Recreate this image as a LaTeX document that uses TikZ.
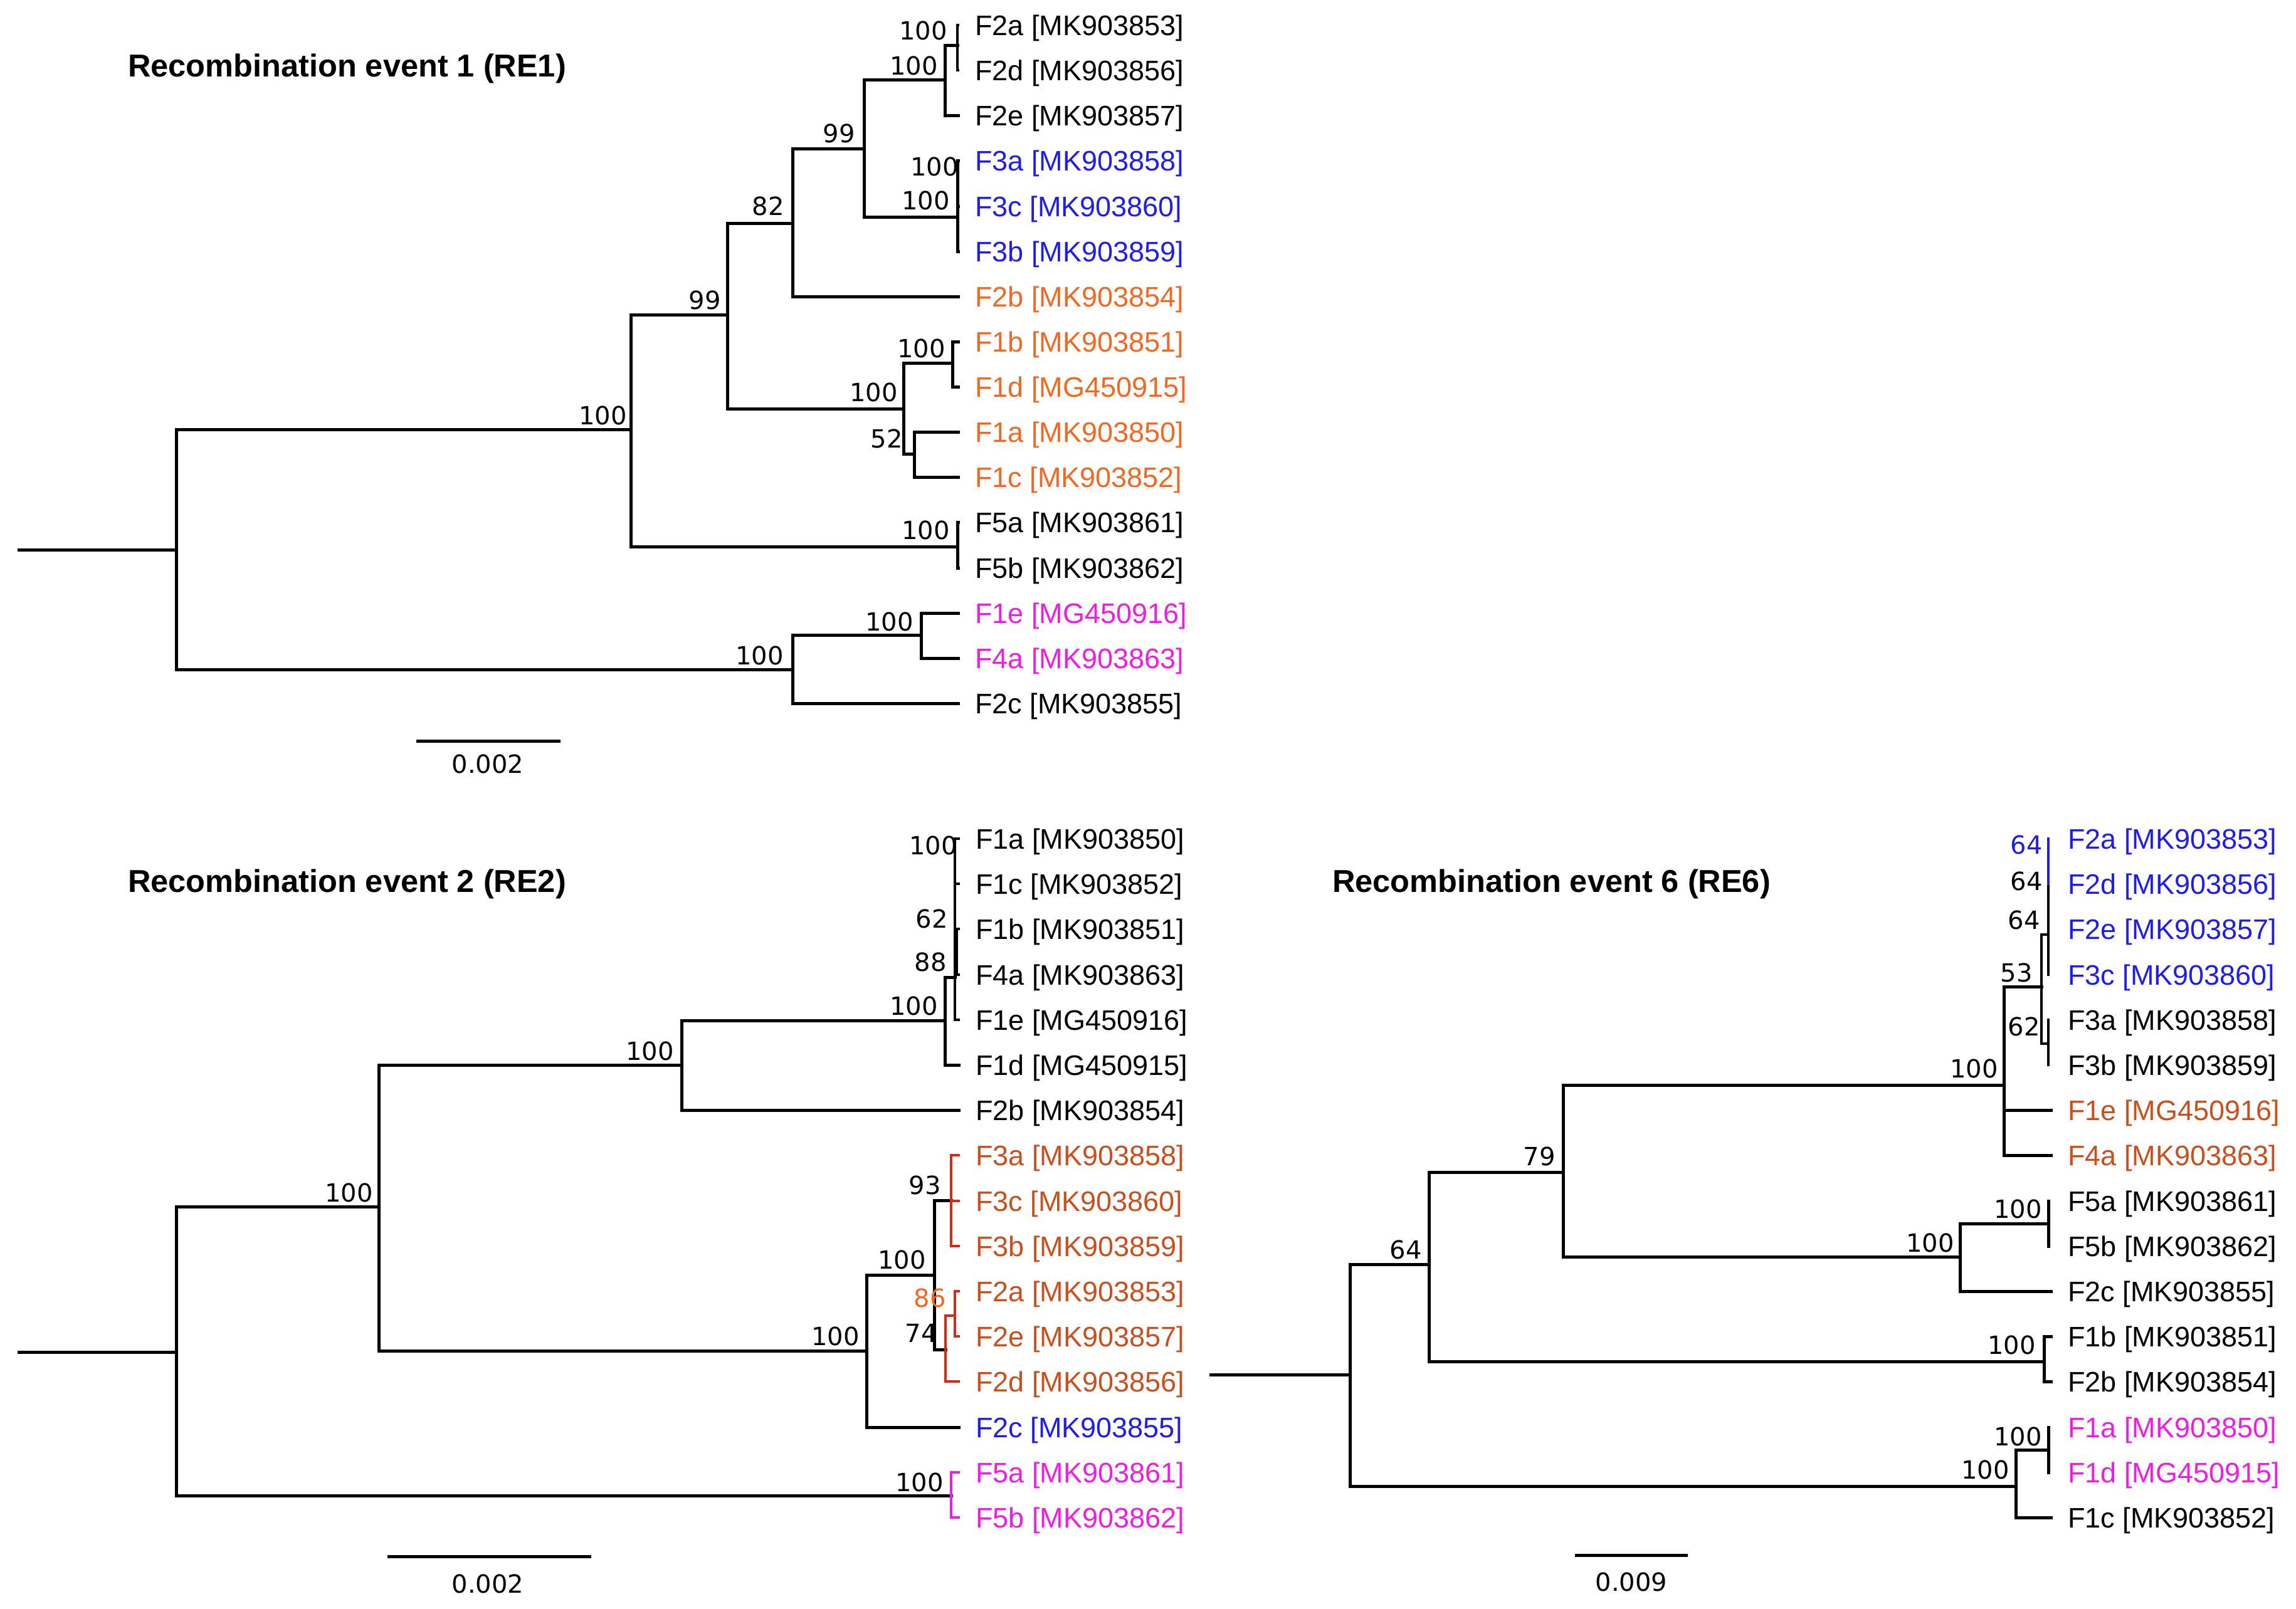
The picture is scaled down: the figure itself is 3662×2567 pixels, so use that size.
\documentclass[tikz,border=0pt]{standalone}
\usepackage{fontspec}
\setmainfont{Liberation Sans}
\newfontfamily\numfont{DejaVu Sans}
\usetikzlibrary{positioning}
\definecolor{seqblue}{RGB}{30,30,230}
\definecolor{seqorange}{RGB}{240,105,35}
\definecolor{seqbrown}{RGB}{200,80,30}
\definecolor{seqmagenta}{RGB}{235,30,225}
\definecolor{cladered}{RGB}{205,45,25}

\begin{document}
\begin{tikzpicture}[
    x=1pt, y=-1pt,
    % Define styles for branches and labels
    branch/.style={line width=5pt, line cap=rect, line join=miter},
    cladeline/.style={line width=3.2pt, line cap=rect, line join=miter},
    leaf/.style={anchor=west, inner xsep=27pt, inner ysep=0pt, outer sep=0pt,
        font=\fontsize{45}{54}\selectfont, text height=32pt, text depth=0pt},
    boot/.style={anchor=east, inner sep=0pt, font=\numfont\fontsize{40}{48}\selectfont,
        text height=29pt, text depth=0pt},
    treetitle/.style={anchor=west, inner sep=0pt, font=\bfseries\fontsize{50.5}{60}\selectfont,
        text height=36pt, text depth=0pt},
    scalelab/.style={inner sep=0pt, font=\numfont\fontsize{40}{48}\selectfont,
        text height=29pt, text depth=0pt}
]
\useasboundingbox (0,0) rectangle (3662,2567);

% --- 1. Recombination event 1 (RE1) ---
\node[treetitle] (title1) at (204,104) {Recombination event 1 (RE1)};

% Leaves
\node[leaf] (t1F2a) at (1528,40) {F2a [MK903853]};
\node[leaf] (t1F2d) at (1528,112) {F2d [MK903856]};
\node[leaf] (t1F2e) at (1528,184) {F2e [MK903857]};
\node[leaf, text=seqblue] (t1F3a) at (1528,256) {F3a [MK903858]};
\node[leaf, text=seqblue] (t1F3c) at (1528,329) {F3c [MK903860]};
\node[leaf, text=seqblue] (t1F3b) at (1528,401) {F3b [MK903859]};
\node[leaf, text=seqorange] (t1F2b) at (1528,473) {F2b [MK903854]};
\node[leaf, text=seqorange] (t1F1b) at (1528,545) {F1b [MK903851]};
\node[leaf, text=seqorange] (t1F1d) at (1528,617) {F1d [MG450915]};
\node[leaf, text=seqorange] (t1F1a) at (1528,689) {F1a [MK903850]};
\node[leaf, text=seqorange] (t1F1c) at (1528,761) {F1c [MK903852]};
\node[leaf] (t1F5a) at (1528,833) {F5a [MK903861]};
\node[leaf] (t1F5b) at (1528,906) {F5b [MK903862]};
\node[leaf, text=seqmagenta] (t1F1e) at (1528,978) {F1e [MG450916]};
\node[leaf, text=seqmagenta] (t1F4a) at (1528,1050) {F4a [MK903863]};
\node[leaf] (t1F2c) at (1528,1122) {F2c [MK903855]};

% Internal nodes
\coordinate (r1start) at (30,877);
\coordinate (r1) at (281,877);
\coordinate (n1A) at (1006,685);
\coordinate (n1B) at (1160,502);
\coordinate (n1C) at (1264,356);
\coordinate (n1D) at (1378,237);
\coordinate (n1E) at (1507,127);
\coordinate (n1F) at (1527,72);
\coordinate (n1G) at (1527,346);
\coordinate (n1H) at (1441,652);
\coordinate (n1I) at (1519,579);
\coordinate (n1J) at (1458,724);
\coordinate (n1K) at (1527,872);
\coordinate (n1L) at (1264,1068);
\coordinate (n1M) at (1469,1013);

% Branches
\draw[branch] (r1start) -- (r1);
\draw[branch] (r1) |- (n1A);
\draw[branch] (r1) |- (n1L);
\draw[branch] (n1A) |- (n1B);
\draw[branch] (n1A) |- (n1K);
\draw[branch] (n1B) |- (n1C);
\draw[branch] (n1B) |- (n1H);
\draw[branch] (n1C) |- (n1D);
\draw[branch] (n1C) |- (t1F2b.west);
\draw[branch] (n1D) |- (n1E);
\draw[branch] (n1D) |- (n1G);
\draw[branch] (n1E) |- (n1F);
\draw[branch] (n1E) |- (t1F2e.west);
\draw[cladeline] (n1F) |- (t1F2a.west);
\draw[cladeline] (n1F) |- (t1F2d.west);
\draw[branch] (n1G) |- (t1F3a.west);
\draw[branch] (n1G) |- (t1F3c.west);
\draw[branch] (n1G) |- (t1F3b.west);
\draw[branch] (n1H) |- (n1I);
\draw[branch] (n1H) |- (n1J);
\draw[branch] (n1I) |- (t1F1b.west);
\draw[branch] (n1I) |- (t1F1d.west);
\draw[branch] (n1J) |- (t1F1a.west);
\draw[branch] (n1J) |- (t1F1c.west);
\draw[branch] (n1K) |- (t1F5a.west);
\draw[branch] (n1K) |- (t1F5b.west);
\draw[branch] (n1L) |- (n1M);
\draw[branch] (n1L) |- (t1F2c.west);
\draw[branch] (n1M) |- (t1F1e.west);
\draw[branch] (n1M) |- (t1F4a.west);

% Bootstrap values
\node[boot] (b1F) at (1511,49) {100};
\node[boot] (b1E) at (1496,105) {100};
\node[boot] (b1D) at (1364,213) {99};
\node[boot] (b1C) at (1251,329) {82};
\node[boot] (b1B) at (1150,479) {99};
\node[boot] (b1A) at (1000,663) {100};
\node[boot] (b1G1) at (1529,266) {100};
\node[boot] (b1G) at (1515,320) {100};
\node[boot] (b1I) at (1508,556) {100};
\node[boot] (b1H) at (1432,626) {100};
\node[boot] (b1J) at (1440,700) {52};
\node[boot] (b1K) at (1515,846) {100};
\node[boot] (b1M) at (1457,992) {100};
\node[boot] (b1L) at (1250,1046) {100};

% Scale bar
\coordinate (s1a) at (664,1182);
\coordinate (s1b) at (894,1182);
\draw[branch, line cap=butt] (s1a) -- (s1b);
\node[scalelab] (s1lab) at (778,1219) {0.002};


% --- 2. Recombination event 2 (RE2) ---
\node[treetitle] (title2) at (204,1405) {Recombination event 2 (RE2)};

% Leaves
\node[leaf] (t2F1a) at (1529,1338) {F1a [MK903850]};
\node[leaf] (t2F1c) at (1529,1410) {F1c [MK903852]};
\node[leaf] (t2F1b) at (1529,1482) {F1b [MK903851]};
\node[leaf] (t2F4a) at (1529,1555) {F4a [MK903863]};
\node[leaf] (t2F1e) at (1529,1627) {F1e [MG450916]};
\node[leaf] (t2F1d) at (1529,1699) {F1d [MG450915]};
\node[leaf] (t2F2b) at (1529,1771) {F2b [MK903854]};
\node[leaf, text=seqbrown] (t2F3a) at (1529,1843) {F3a [MK903858]};
\node[leaf, text=seqbrown] (t2F3c) at (1529,1916) {F3c [MK903860]};
\node[leaf, text=seqbrown] (t2F3b) at (1529,1988) {F3b [MK903859]};
\node[leaf, text=seqbrown] (t2F2a) at (1529,2060) {F2a [MK903853]};
\node[leaf, text=seqbrown] (t2F2e) at (1529,2132) {F2e [MK903857]};
\node[leaf, text=seqbrown] (t2F2d) at (1529,2204) {F2d [MK903856]};
\node[leaf, text=seqblue] (t2F2c) at (1529,2277) {F2c [MK903855]};
\node[leaf, text=seqmagenta] (t2F5a) at (1529,2349) {F5a [MK903861]};
\node[leaf, text=seqmagenta] (t2F5b) at (1529,2421) {F5b [MK903862]};

% Internal nodes
\coordinate (r2start) at (30,2157);
\coordinate (r2) at (281,2157);
\coordinate (n2A) at (604,1925);
\coordinate (n2B) at (1087,1699);
\coordinate (n2C) at (1507,1628);
\coordinate (n2N) at (1523,1559);
\coordinate (n2P) at (1526,1518);
\coordinate (n2D) at (1382,2155);
\coordinate (n2E) at (1490,2034);
\coordinate (n2F) at (1517,1915);
\coordinate (n2G) at (1508,2153);
\coordinate (n2H) at (1523,2099);
\coordinate (n2K) at (1517,2386);

% Branches
\draw[branch] (r2start) -- (r2);
\draw[branch] (r2) |- (n2A);
\draw[branch] (r2) -- (r2 |- n2K) -- (n2K);
\draw[branch] (n2A) |- (n2B);
\draw[branch] (n2A) |- (n2D);
\draw[branch] (n2B) |- (n2C);
\draw[branch] (n2B) |- (t2F2b.west);
\draw[branch] (n2C) |- (n2N);
\draw[branch] (n2C) |- (t2F1d.west);
\draw[cladeline] (n2N) |- (t2F1a.west);
\draw[cladeline] (n2N) |- (t2F1c.west);
\draw[cladeline] (n2N) |- (n2P);
\draw[cladeline] (n2P) |- (t2F1b.west);
\draw[cladeline] (n2P) |- (t2F4a.west);
\draw[cladeline] (n2N) |- (t2F1e.west);
\draw[branch] (n2D) |- (n2E);
\draw[branch] (n2D) |- (t2F2c.west);
\draw[branch] (n2E) |- (n2F);
\draw[branch] (n2E) |- (n2G);
\draw[cladeline, cladered] (n2F) |- (t2F3a.west);
\draw[cladeline, cladered] (n2F) |- (t2F3c.west);
\draw[cladeline, cladered] (n2F) |- (t2F3b.west);
\draw[cladeline, cladered] (n2G) |- (n2H);
\draw[cladeline, cladered] (n2G) |- (t2F2d.west);
\draw[cladeline, cladered] (n2H) |- (t2F2a.west);
\draw[cladeline, cladered] (n2H) |- (t2F2e.west);
\draw[cladeline, seqmagenta] (n2K) |- (t2F5a.west);
\draw[cladeline, seqmagenta] (n2K) |- (t2F5b.west);

% Bootstrap values
\node[boot] (b2N1) at (1527,1349) {100};
\node[boot] (b2P) at (1512,1466) {62};
\node[boot] (b2N) at (1510,1535) {88};
\node[boot] (b2C) at (1496,1605) {100};
\node[boot] (b2B) at (1075,1677) {100};
\node[boot] (b2A) at (595,1903) {100};
\node[boot] (b2F) at (1501,1891) {93};
\node[boot] (b2E) at (1477,2010) {100};
\node[boot, text=seqorange] (b2H) at (1509,2071) {86};
\node[boot] (b2G) at (1495,2127) {74};
\node[boot] (b2D) at (1371,2132) {100};
\node[boot] (b2K) at (1505,2365) {100};

% Scale bar
\coordinate (s2a) at (618,2483);
\coordinate (s2b) at (943,2483);
\draw[branch, line cap=butt] (s2a) -- (s2b);
\node[scalelab] (s2lab) at (778,2527) {0.002};


% --- 3. Recombination event 6 (RE6) ---
\node[treetitle] (title3) at (2125,1405) {Recombination event 6 (RE6)};

% Leaves
\node[leaf, inner xsep=31pt, text=seqblue] (t3F2a) at (3267,1338) {F2a [MK903853]};
\node[leaf, inner xsep=31pt, text=seqblue] (t3F2d) at (3267,1410) {F2d [MK903856]};
\node[leaf, inner xsep=31pt, text=seqblue] (t3F2e) at (3267,1482) {F2e [MK903857]};
\node[leaf, inner xsep=31pt, text=seqblue] (t3F3c) at (3267,1555) {F3c [MK903860]};
\node[leaf, inner xsep=31pt] (t3F3a) at (3267,1627) {F3a [MK903858]};
\node[leaf, inner xsep=31pt] (t3F3b) at (3267,1699) {F3b [MK903859]};
\node[leaf, inner xsep=27pt, text=seqbrown] (t3F1e) at (3271,1771) {F1e [MG450916]};
\node[leaf, inner xsep=27pt, text=seqbrown] (t3F4a) at (3271,1843) {F4a [MK903863]};
\node[leaf, inner xsep=31pt] (t3F5a) at (3267,1916) {F5a [MK903861]};
\node[leaf, inner xsep=31pt] (t3F5b) at (3267,1988) {F5b [MK903862]};
\node[leaf, inner xsep=27pt] (t3F2c) at (3271,2060) {F2c [MK903855]};
\node[leaf, inner xsep=27pt] (t3F1b) at (3271,2132) {F1b [MK903851]};
\node[leaf, inner xsep=27pt] (t3F2b) at (3271,2204) {F2b [MK903854]};
\node[leaf, inner xsep=31pt, text=seqmagenta] (t3F1a) at (3267,2277) {F1a [MK903850]};
\node[leaf, inner xsep=31pt, text=seqmagenta] (t3F1d) at (3267,2349) {F1d [MG450915]};
\node[leaf, inner xsep=27pt] (t3F1c) at (3271,2421) {F1c [MK903852]};

% Internal nodes
\coordinate (r3start) at (1931,2193);
\coordinate (r3) at (2153,2193);
\coordinate (n3A) at (2279,2017);
\coordinate (n3B) at (2493,1870);
\coordinate (n3C) at (3196,1731);
\coordinate (n3D) at (3256,1574);
\coordinate (n3E) at (3267,1491);
\coordinate (n3F) at (3267,1665);
\coordinate (n3G) at (3126,2005);
\coordinate (n3H) at (3267,1952);
\coordinate (n3P) at (3260,2172);
\coordinate (n3Q) at (3215,2371);
\coordinate (n3R) at (3267,2313);

% Branches
\draw[branch] (r3start) -- (r3);
\draw[branch] (r3) |- (n3A);
\draw[branch] (r3) |- (n3Q);
\draw[branch] (n3A) |- (n3B);
\draw[branch] (n3A) |- (n3P);
\draw[branch] (n3B) |- (n3C);
\draw[branch] (n3B) |- (n3G);
\draw[branch] (n3C) |- (n3D);
\draw[branch] (n3C) |- (t3F1e.west);
\draw[branch] (n3C) |- (t3F4a.west);
\draw[cladeline] (n3D) |- (n3E);
\draw[cladeline] (n3D) |- (n3F);
\draw[cladeline] (n3E) |- (t3F2a.west);
\draw[cladeline] (n3E) |- (t3F2d.west);
\draw[cladeline] (n3E) |- (t3F2e.west);
\draw[cladeline] (n3E) |- (t3F3c.west);
\draw[cladeline, seqblue] (t3F2a.west) -- (t3F2d.west);
\draw[cladeline] (n3F) |- (t3F3a.west);
\draw[cladeline] (n3F) |- (t3F3b.west);
\draw[branch] (n3G) |- (n3H);
\draw[branch] (n3G) |- (t3F2c.west);
\draw[branch] (n3H) |- (t3F5a.west);
\draw[branch] (n3H) |- (t3F5b.west);
\draw[branch] (n3P) |- (t3F1b.west);
\draw[branch] (n3P) |- (t3F2b.west);
\draw[branch] (n3Q) |- (n3R);
\draw[branch] (n3Q) |- (t3F1c.west);
\draw[branch] (n3R) |- (t3F1a.west);
\draw[branch] (n3R) |- (t3F1d.west);

% Bootstrap values
\node[boot, text=seqblue] (b3E1) at (3258,1348) {64};
\node[boot] (b3E2) at (3258,1406) {64};
\node[boot] (b3E) at (3254,1468) {64};
\node[boot] (b3D) at (3242,1552) {53};
\node[boot] (b3F) at (3254,1638) {62};
\node[boot] (b3C) at (3187,1705) {100};
\node[boot] (b3B) at (2481,1845) {79};
\node[boot] (b3A) at (2268,1994) {64};
\node[boot] (b3H) at (3257,1929) {100};
\node[boot] (b3G) at (3117,1983) {100};
\node[boot] (b3P) at (3247,2146) {100};
\node[boot] (b3R) at (3257,2292) {100};
\node[boot] (b3Q) at (3205,2345) {100};

% Scale bar
\coordinate (s3a) at (2512,2481);
\coordinate (s3b) at (2692,2481);
\draw[branch, line cap=butt] (s3a) -- (s3b);
\node[scalelab] (s3lab) at (2602,2524) {0.009};

\end{tikzpicture}
\end{document}
